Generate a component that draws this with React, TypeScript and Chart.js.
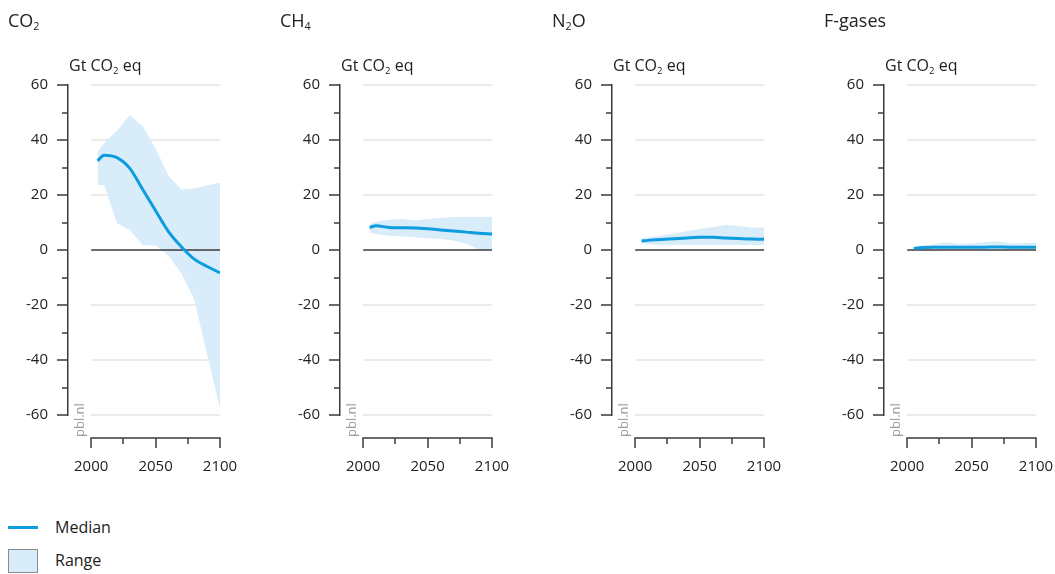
import React, { useEffect, useRef } from 'react';
import { Chart, registerables } from 'chart.js';

Chart.register(...registerables);

// ---------- data ----------
const years = [2005, 2010, 2020, 2030, 2040, 2050, 2060, 2070, 2080, 2090, 2100];

const co2Median = [32.4, 34.5, 33.6, 29.7, 22.0, 14.3, 6.7, 1.2, -3.3, -6.0, -8.3];
const co2Low = [23.6, 23.6, 9.7, 7.3, 1.8, 1.6, -2.0, -8.5, -18.0, -38.0, -57.5];
const co2High = [35.7, 38.8, 43.5, 49.0, 45.0, 37.0, 27.0, 22.0, 22.5, 23.5, 24.5];

const ch4Median = [8.2, 8.8, 8.2, 8.1, 8.0, 7.7, 7.3, 6.9, 6.5, 6.1, 5.8];
const ch4Low = [6.3, 5.8, 5.2, 4.9, 4.6, 4.3, 4.0, 3.5, 2.3, 0.0, 0.0];
const ch4High = [9.5, 10.3, 11.0, 11.3, 10.7, 11.3, 11.6, 12.0, 12.1, 12.1, 12.1];

const n2oMedian = [3.3, 3.5, 3.8, 4.1, 4.4, 4.6, 4.6, 4.4, 4.2, 4.0, 3.9];
const n2oLow = [2.5, 2.1, 1.8, 1.8, 1.8, 1.8, 1.8, 1.8, 1.8, 1.8, 1.8];
const n2oHigh = [4.3, 4.6, 5.2, 6.0, 6.8, 7.6, 8.4, 9.1, 8.8, 8.2, 8.2];

const fgasMedian = [0.5, 0.8, 1.0, 1.0, 1.0, 1.0, 1.0, 1.1, 1.0, 1.0, 1.0];
const fgasLow = [0.3, 0.3, 0.3, 0.3, 0.3, 0.3, 0.3, 0.3, 0.3, 0.3, 0.3];
const fgasHigh = [1.0, 1.6, 2.0, 2.8, 2.2, 2.4, 2.8, 3.3, 2.4, 2.5, 2.7];

const yMin = -60;
const yMax = 60;
const yLabelStep = 20;
const yTickValues = [-60, -50, -40, -30, -20, -10, 0, 10, 20, 30, 40, 50, 60];
const yGridValues = [-60, -40, -20, 20, 40, 60];
const xAxisStart = 1982; // room between the y axis and the plot
const xFirst = 2000;
const xLast = 2100;
const xTickYears = [2000, 2025, 2050, 2075, 2100];
const xLabelYears = [2000, 2050, 2100];

const unitLabel = 'Gt CO₂ eq';

// ---------- styles ----------
const FONT = "'Open Sans', 'Noto Sans', sans-serif";
const LINE_COLOR = '#0b9de0';
const FILL_COLOR = '#d9ecfa';
const GRID_COLOR = '#e4e4e4';
const AXIS_COLOR = '#3a3a3a';
const TEXT_COLOR = '#222222';
const PANEL_STEP = 272;

type PanelProps = {
  index: number;
  median: number[];
  low: number[];
  high: number[];
};

const axesPlugin = {
  id: 'pblAxes',
  beforeDatasetsDraw(chart: any) {
    const { ctx, scales } = chart;
    const x = scales.x;
    const y = scales.y;
    const x0 = x.getPixelForValue(xFirst);
    const x1 = x.getPixelForValue(xLast);
    ctx.save();
    ctx.strokeStyle = GRID_COLOR;
    ctx.lineWidth = 1.5;
    for (const v of yGridValues) {
      const py = Math.round(y.getPixelForValue(v));
      ctx.beginPath();
      ctx.moveTo(x0, py);
      ctx.lineTo(x1, py);
      ctx.stroke();
    }
    ctx.restore();
  },
  afterDatasetDraw(chart: any, args: any) {
    if (args.index !== 1) return;
    const { ctx, scales } = chart;
    const x = scales.x;
    const y = scales.y;
    const py = Math.round(y.getPixelForValue(0));
    ctx.save();
    ctx.strokeStyle = AXIS_COLOR;
    ctx.lineWidth = 1.5;
    ctx.beginPath();
    ctx.moveTo(x.getPixelForValue(xFirst), py);
    ctx.lineTo(x.getPixelForValue(xLast), py);
    ctx.stroke();
    ctx.restore();
  },
  afterDraw(chart: any) {
    const { ctx, chartArea, scales } = chart;
    const x = scales.x;
    const y = scales.y;
    ctx.save();
    ctx.strokeStyle = AXIS_COLOR;
    ctx.lineWidth = 1.5;
    // y tick marks
    for (const v of yTickValues) {
      const py = Math.round(y.getPixelForValue(v));
      const len = v % yLabelStep === 0 ? 11 : 6;
      ctx.beginPath();
      ctx.moveTo(chartArea.left - len, py);
      ctx.lineTo(chartArea.left, py);
      ctx.stroke();
    }
    // x axis
    const ay = Math.round(chartArea.bottom + 23);
    const x0 = x.getPixelForValue(xFirst);
    const x1 = x.getPixelForValue(xLast);
    ctx.beginPath();
    ctx.moveTo(x0 - 0.75, ay);
    ctx.lineTo(x1 + 0.75, ay);
    ctx.stroke();
    for (const yr of xTickYears) {
      const px = Math.round(x.getPixelForValue(yr));
      const len = xLabelYears.includes(yr) ? 10 : 6;
      ctx.beginPath();
      ctx.moveTo(px, ay);
      ctx.lineTo(px, ay + len);
      ctx.stroke();
    }
    // source tag
    ctx.translate(chartArea.left + 16, chartArea.bottom + 22);
    ctx.rotate(-Math.PI / 2);
    ctx.fillStyle = '#9a9a9a';
    ctx.font = `13px ${FONT}`;
    ctx.textAlign = 'left';
    ctx.textBaseline = 'alphabetic';
    ctx.fillText('pbl.nl', 0, 0);
    ctx.restore();
  },
};

function Panel({ index, median, low, high }: PanelProps) {
  const ref = useRef<HTMLCanvasElement | null>(null);

  useEffect(() => {
    if (!ref.current) return;
    const toPts = (arr: number[]) => arr.map((v, i) => ({ x: years[i], y: v }));
    const chart = new Chart(ref.current, {
      type: 'line',
      data: {
        datasets: [
          {
            label: 'Median',
            data: toPts(median),
            borderColor: LINE_COLOR,
            borderWidth: 3,
            pointRadius: 0,
            fill: false,
            cubicInterpolationMode: 'monotone',
          },
          {
            label: 'Range low',
            data: toPts(low),
            borderWidth: 0,
            borderColor: 'rgba(0,0,0,0)',
            pointRadius: 0,
            fill: false,
            tension: 0,
          },
          {
            label: 'Range',
            data: toPts(high),
            borderWidth: 0,
            borderColor: 'rgba(0,0,0,0)',
            backgroundColor: FILL_COLOR,
            pointRadius: 0,
            fill: '-1',
            tension: 0,
          },
        ],
      },
      options: {
        animation: false,
        responsive: false,
        events: [],
        layout: { padding: { top: 85, right: 20, bottom: 0, left: 0 } },
        plugins: {
          legend: { display: false },
          tooltip: { enabled: false },
          title: { display: false },
        },
        scales: {
          x: {
            type: 'linear',
            min: xAxisStart,
            max: xLast,
            afterBuildTicks: (s: any) => {
              s.ticks = xLabelYears.map((v) => ({ value: v }));
            },
            afterFit: (s: any) => {
              s.height = 75;
            },
            grid: { display: false, drawTicks: true, tickLength: 43 },
            border: { display: false },
            ticks: {
              autoSkip: false,
              maxRotation: 0,
              padding: 0,
              color: TEXT_COLOR,
              font: { family: FONT, size: 15 },
              callback: (v: any) => String(v),
            },
          },
          y: {
            type: 'linear',
            min: yMin,
            max: yMax,
            afterFit: (s: any) => {
              s.width = 68;
            },
            grid: { display: false, drawTicks: true, tickLength: 11 },
            border: { display: true, color: AXIS_COLOR, width: 1.5 },
            ticks: {
              stepSize: yLabelStep,
              padding: 9,
              color: TEXT_COLOR,
              font: { family: FONT, size: 15 },
            },
          },
        },
      },
      plugins: [axesPlugin],
    } as any);
    return () => chart.destroy();
  }, [median, low, high]);

  return (
    <canvas
      ref={ref}
      width={240}
      height={490}
      style={{ position: 'absolute', left: index * PANEL_STEP, top: 0, width: 240, height: 490 }}
    />
  );
}

const subStyle: React.CSSProperties = { fontSize: '0.6em', verticalAlign: '-0.3em', lineHeight: 0 };

const titles: React.ReactNode[] = [
  <>CO<sub style={subStyle}>2</sub></>,
  <>CH<sub style={subStyle}>4</sub></>,
  <>N<sub style={subStyle}>2</sub>O</>,
  <>F-gases</>,
];

const panels = [
  { median: co2Median, low: co2Low, high: co2High },
  { median: ch4Median, low: ch4Low, high: ch4High },
  { median: n2oMedian, low: n2oLow, high: n2oHigh },
  { median: fgasMedian, low: fgasLow, high: fgasHigh },
];

export default function App() {
  return (
    <div
      style={{
        position: 'absolute',
        left: 0,
        top: 0,
        width: 1055,
        height: 574,
        overflow: 'hidden',
        background: '#fff',
        fontFamily: FONT,
        color: TEXT_COLOR,
      }}
    >
      {panels.map((p, i) => (
        <React.Fragment key={i}>
          <Panel index={i} median={p.median} low={p.low} high={p.high} />
          <div
            style={{ position: 'absolute', left: 8 + i * PANEL_STEP, top: 11, fontSize: 18, lineHeight: '18px', whiteSpace: 'nowrap' }}
          >
            {titles[i]}
          </div>
          <div
            style={{ position: 'absolute', left: 69 + i * PANEL_STEP, top: 57, fontSize: 16, lineHeight: '16px', whiteSpace: 'nowrap' }}
          >
            Gt CO<sub style={subStyle}>2</sub> eq
          </div>
        </React.Fragment>
      ))}
      {/* legend */}
      <div style={{ position: 'absolute', left: 8, top: 526, width: 30, height: 3, background: LINE_COLOR }} />
      <div style={{ position: 'absolute', left: 55, top: 519, fontSize: 16, lineHeight: '16px' }}>Median</div>
      <div
        style={{
          position: 'absolute',
          left: 8,
          top: 549,
          width: 28,
          height: 22,
          background: FILL_COLOR,
          border: '1px solid #8a8a8a',
        }}
      />
      <div style={{ position: 'absolute', left: 55, top: 552, fontSize: 16, lineHeight: '16px' }}>Range</div>
    </div>
  );
}
